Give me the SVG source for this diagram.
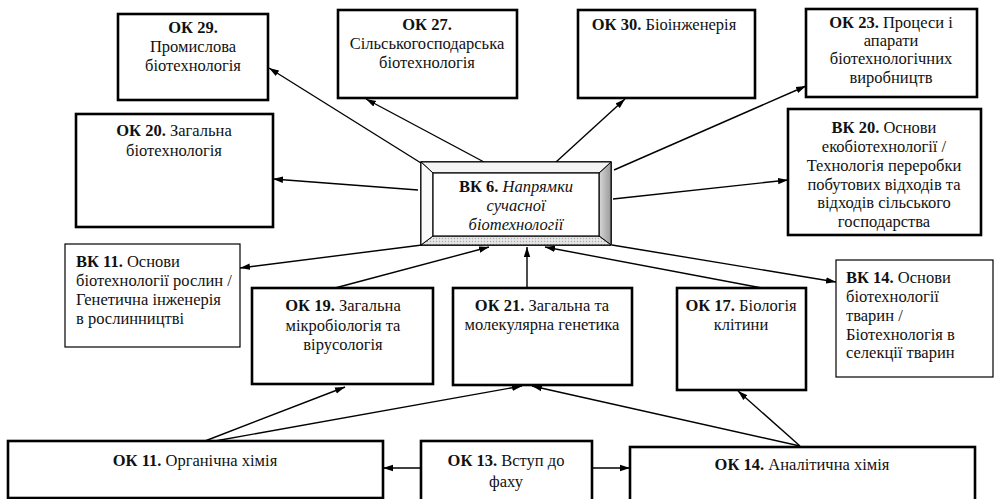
<svg xmlns="http://www.w3.org/2000/svg" width="994" height="499" viewBox="0 0 994 499">
<style>
.box{fill:#fff;stroke:#000;stroke-width:2.6}
.thin{fill:#fff;stroke:#000;stroke-width:1.2}
text{font-family:"Liberation Serif","Times New Roman",serif;font-size:16.5px;fill:#111}
.c{text-anchor:middle}
.b{font-weight:bold}
.i{font-style:italic}
.ln{stroke:#000;stroke-width:1.4;fill:none;marker-end:url(#ah)}
</style>
<defs>
<marker id="ah" markerUnits="userSpaceOnUse" markerWidth="10" markerHeight="8" refX="10" refY="4" orient="auto">
<path d="M0,0.8 L10,4 L0,7.2 z" fill="#000"/>
</marker>
<linearGradient id="rg" x1="0" y1="0" x2="1" y2="0"><stop offset="0" stop-color="#d8d8d8"/><stop offset="1" stop-color="#9a9a9a"/></linearGradient>
<pattern id="dots" width="3" height="3" patternUnits="userSpaceOnUse"><rect width="3" height="3" fill="#e6e6e6"/><circle cx="1.5" cy="1.5" r="0.7" fill="#aaa"/></pattern>
</defs>
<rect width="994" height="499" fill="#fff"/>

<g id="connectors">
<line class="ln" x1="421" y1="163" x2="269" y2="68"/>
<line class="ln" x1="484" y1="162" x2="366" y2="99"/>
<line class="ln" x1="556" y1="162" x2="625" y2="99"/>
<line class="ln" x1="614" y1="170" x2="806" y2="86"/>
<line class="ln" x1="418" y1="190" x2="273" y2="179"/>
<line class="ln" x1="613" y1="199" x2="788" y2="180"/>
<line class="ln" x1="422" y1="245" x2="240" y2="268"/>
<line class="ln" x1="612" y1="245" x2="836" y2="282"/>
<line class="ln" x1="335" y1="288" x2="489" y2="247"/>
<line class="ln" x1="527" y1="288" x2="527" y2="247"/>
<line class="ln" x1="762" y1="288" x2="545" y2="247"/>
<line class="ln" x1="205" y1="441" x2="345" y2="387"/>
<line class="ln" x1="215" y1="441" x2="522" y2="386"/>
<line class="ln" x1="800" y1="446" x2="532" y2="386"/>
<line class="ln" x1="800" y1="446" x2="738" y2="391"/>
<line class="ln" x1="421" y1="468" x2="383" y2="468"/>
<line class="ln" x1="592" y1="468" x2="630" y2="468"/>
</g>

<g id="ok29">
<rect class="box" x="118" y="14" width="150" height="86"/>
<text class="c" x="193"><tspan class="b" x="193" y="33">ОК 29.</tspan><tspan x="193" y="52">Промислова</tspan><tspan x="193" y="71">біотехнологія</tspan></text>
</g>
<g id="ok27">
<rect class="box" x="338" y="10" width="179" height="88"/>
<text class="c"><tspan class="b" x="427" y="30">ОК 27.</tspan><tspan x="427" y="49">Сільськогосподарська</tspan><tspan x="427" y="68">біотехнологія</tspan></text>
</g>
<g id="ok30">
<rect class="box" x="578" y="10" width="177" height="88"/>
<text class="c" x="664" y="30"><tspan class="b">ОК 30.</tspan> Біоінженерія</text>
</g>
<g id="ok23">
<rect class="box" x="806" y="9" width="171" height="88"/>
<text class="c"><tspan x="891" y="28"><tspan class="b">ОК 23.</tspan> Процеси і</tspan><tspan x="891" y="46">апарати</tspan><tspan x="891" y="64">біотехнологічних</tspan><tspan x="891" y="83">виробництв</tspan></text>
</g>
<g id="ok20">
<rect class="box" x="76" y="114" width="197" height="113"/>
<text class="c"><tspan x="174" y="136"><tspan class="b">ОК 20.</tspan> Загальна</tspan><tspan x="174" y="156">біотехнологія</tspan></text>
</g>
<g id="bk6">
<rect x="421" y="162" width="190" height="83" fill="#fff" stroke="#000" stroke-width="1.5"/>
<polygon points="599,173 611,162 611,245 599,236" fill="url(#rg)" stroke="#000" stroke-width="1"/>
<polygon points="433,236 599,236 611,245 421,245" fill="url(#dots)" stroke="#000" stroke-width="1"/>
<polygon points="421,162 611,162 599,173 433,173" fill="#f4f4f4" stroke="#000" stroke-width="1"/>
<polygon points="421,162 433,173 433,236 421,245" fill="#fafafa" stroke="#000" stroke-width="1"/>
<rect x="433" y="173" width="166" height="63" fill="#fff" stroke="#000" stroke-width="1.2"/>
<text class="c"><tspan x="516" y="192"><tspan class="b">ВК 6.</tspan> <tspan class="i">Напрямки</tspan></tspan><tspan class="i" x="516" y="211">сучасної</tspan><tspan class="i" x="516" y="230">біотехнології</tspan></text>
</g>
<g id="bk20">
<rect class="box" x="788" y="109" width="193" height="126"/>
<text class="c"><tspan x="884" y="133"><tspan class="b">ВК 20.</tspan> Основи</tspan><tspan x="884" y="152">екобіотехнології /</tspan><tspan x="884" y="171">Технологія переробки</tspan><tspan x="884" y="190">побутових відходів та</tspan><tspan x="884" y="208">відходів сільського</tspan><tspan x="884" y="227">господарства</tspan></text>
</g>
<g id="bk11">
<rect class="thin" x="65" y="244" width="175" height="103"/>
<text><tspan x="76" y="267"><tspan class="b">ВК 11.</tspan> Основи</tspan><tspan x="76" y="286">біотехнології рослин /</tspan><tspan x="76" y="305">Генетична інженерія</tspan><tspan x="76" y="324">в рослинництві</tspan></text>
</g>
<g id="bk14">
<rect class="thin" x="836" y="260" width="157" height="117"/>
<text><tspan x="846" y="283"><tspan class="b">ВК 14.</tspan> Основи</tspan><tspan x="846" y="302">біотехнології</tspan><tspan x="846" y="321">тварин /</tspan><tspan x="846" y="340">Біотехнологія в</tspan><tspan x="846" y="358">селекції тварин</tspan></text>
</g>
<g id="ok19">
<rect class="box" x="252" y="288" width="181" height="96"/>
<text class="c"><tspan x="343" y="311"><tspan class="b">ОК 19.</tspan> Загальна</tspan><tspan x="343" y="331">мікробіологія та</tspan><tspan x="343" y="350">вірусологія</tspan></text>
</g>
<g id="ok21">
<rect class="box" x="453" y="288" width="179" height="97"/>
<text class="c"><tspan x="542" y="311"><tspan class="b">ОК 21.</tspan> Загальна та</tspan><tspan x="542" y="330">молекулярна генетика</tspan></text>
</g>
<g id="ok17">
<rect class="box" x="677" y="288" width="129" height="102"/>
<text class="c"><tspan x="741" y="311"><tspan class="b">ОК 17.</tspan> Біологія</tspan><tspan x="741" y="330">клітини</tspan></text>
</g>
<g id="ok11">
<rect class="box" x="8" y="441" width="375" height="57"/>
<text class="c" x="195" y="466"><tspan class="b">ОК 11.</tspan> Органічна хімія</text>
</g>
<g id="ok13">
<rect class="box" x="421" y="441" width="171" height="60"/>
<text class="c"><tspan x="506" y="466"><tspan class="b">ОК 13.</tspan> Вступ до</tspan><tspan x="506" y="487">фаху</tspan></text>
</g>
<g id="ok14">
<rect class="box" x="630" y="447" width="345" height="54"/>
<text class="c" x="802" y="470"><tspan class="b">ОК 14.</tspan> Аналітична хімія</text>
</g>
</svg>
